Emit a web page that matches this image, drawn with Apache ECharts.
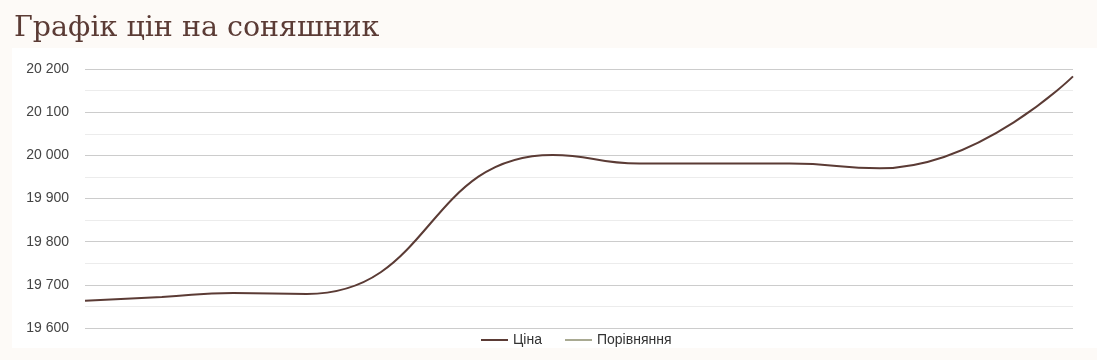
<!DOCTYPE html>
<html>
<head>
<meta charset="utf-8">
<script src="https://cdn.jsdelivr.net/npm/echarts@6/dist/echarts.min.js"></script>
<style>
html,body{margin:0;padding:0;background:#fdfaf7;}
#c{width:1097px;height:360px;}
</style>
</head>
<body>
<div id="c"></div>
<script>
const titleText = 'Графік цін на соняшник';
// day offsets of the observations (x is hidden in the reference)
const days = [0, 7, 13.5, 20.2, 42.6, 50.5, 64.2, 72.4, 90];
const priceValues = [19663, 19672, 19681, 19679, 20001, 19981, 19981, 19970, 20183];
const compareValues = [];
const seriesNames = ['Ціна', 'Порівняння'];
const yMin = 19600, yMax = 20200, yStep = 100;
const dayMin = 0, dayMax = 90;

const priceData = days.map((d, i) => [d, priceValues[i]]);

const chart = echarts.init(document.getElementById('c'));
chart.setOption({
  backgroundColor: '#fdfaf7',
  animation: false,
  title: {
    text: titleText,
    left: 9, top: 9,
    textStyle: { fontFamily: 'DejaVu Serif', fontWeight: 'normal', fontSize: 28.5, color: '#5b3b35' }
  },
  graphic: [{
    type: 'rect', z: -10, silent: true,
    shape: { x: 12, y: 48, width: 1085, height: 300 },
    style: { fill: '#ffffff' }
  }],
  legend: {
    bottom: 8, left: 476,
    itemWidth: 27, itemHeight: 2, itemGap: 23,
    textStyle: { fontFamily: 'Liberation Sans', fontSize: 14, color: '#333' },
    data: seriesNames.map(n => ({ name: n, icon: 'rect' }))
  },
  grid: { left: 85, right: 24, top: 69, bottom: 32 },
  xAxis: {
    type: 'value', min: dayMin, max: dayMax,
    axisLine: { show: false }, axisTick: { show: false }, axisLabel: { show: false },
    splitLine: { show: false }
  },
  yAxis: {
    type: 'value', min: yMin, max: yMax, interval: yStep,
    axisLine: { show: false }, axisTick: { show: false },
    axisLabel: {
      margin: 16, fontFamily: 'Liberation Sans', fontSize: 14, color: '#444',
      formatter: v => String(v).replace(/\B(?=(\d{3})+(?!\d))/g, ' ')
    },
    splitLine: { lineStyle: { color: '#cccccc', width: 1 } },
    minorTick: { show: false, splitNumber: 2 },
    minorSplitLine: { show: true, lineStyle: { color: '#ececec', width: 1 } }
  },
  series: [
    { name: seriesNames[0], type: 'line', data: priceData, smooth: 0.5, symbol: 'none',
      color: '#5b3b35', lineStyle: { width: 2, color: '#5b3b35' } },
    { name: seriesNames[1], type: 'line', data: compareValues, smooth: true, symbol: 'none',
      color: '#a9aa92', lineStyle: { width: 2, color: '#a9aa92' } }
  ]
});
</script>
</body>
</html>
